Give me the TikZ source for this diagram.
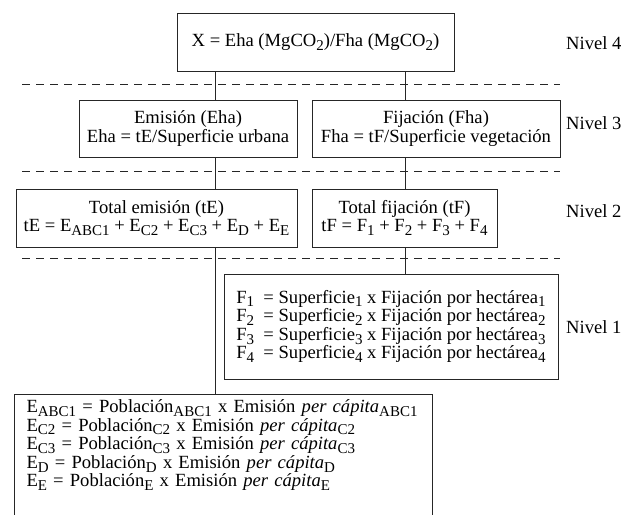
\documentclass[tikz,border=0pt]{standalone}
\usepackage{fontspec}
\setmainfont{Liberation Serif}
\usepackage{tikz}
\usetikzlibrary{positioning}

\newcommand{\ix}[1]{\raisebox{-3.8pt}{\fontsize{15}{15}\selectfont #1}}
\newcommand{\boxfont}{\fontsize{18.6}{18.6}\selectfont\lineskiplimit -20pt\relax}

\begin{document}
\begin{tikzpicture}
  [
    x=1pt, y=-1pt,
    Box/.style={rectangle, draw=black!85, line width=1pt, fill=white, inner sep=3pt,
      font=\boxfont, align=center},
    Level/.style={anchor=west, inner sep=0pt, font=\boxfont},
    Sep/.style={draw=black!85, line width=1pt, dash pattern=on 8pt off 6pt},
    Link/.style={draw=black!85, line width=1pt}
  ]
  \useasboundingbox (0,0) rectangle (621,514);
  \clip (0,0) rectangle (621,514);

  % Separators
  \path [Sep] (22,84) -- (560,84);
  \path [Sep] (22,171) -- (560,171);
  \path [Sep] (22,258) -- (560,258);

  % Nodes
  \coordinate (cl) at (215,0);
  \coordinate (cr) at (405,0);
  \node[Box, minimum width=277pt, minimum height=58pt] (x4) at (315.5,42) {X = Eha (MgCO\ix{2})/Fha (MgCO\ix{2})};
  \node[Box, minimum width=218pt, minimum height=57pt] (e3) at (188,128.5) {Emisión (Eha)\\Eha = tE/Superficie urbana};
  \node[Box, minimum width=248pt, minimum height=57pt] (f3) at (436,128.5) {Fijación (Fha)\\Fha = tF/Superficie vegetación};
  \node[Box, minimum width=281pt, minimum height=58pt] (e2) at (156.5,218) {Total emisión (tE)\\tE = E\ix{ABC1} + E\ix{C2} + E\ix{C3} + E\ix{D} + E\ix{E}};
  \node[Box, minimum width=185pt, minimum height=58pt] (f2) at (404.5,218) {Total fijación (tF)\\tF = F\ix{1} + F\ix{2} + F\ix{3} + F\ix{4}};
  \node[Box, align=left, minimum width=334pt, minimum height=105pt] (f1) at (391,326.5) {%
    F\ix{1}\ \ = Superficie\ix{1} x Fijación por hectárea\ix{1}\\
    F\ix{2}\ \ = Superficie\ix{2} x Fijación por hectárea\ix{2}\\
    F\ix{3}\ \ = Superficie\ix{3} x Fijación por hectárea\ix{3}\\
    F\ix{4}\ \ = Superficie\ix{4} x Fijación por hectárea\ix{4}};
  \node[Box, align=left, anchor=north west, text width=394pt, inner xsep=12pt, inner ysep=5pt] (e1) at (14,394) {%
    E\ix{ABC1} = Población\ix{ABC1} x Emisión \textit{per cápita}\ix{ABC1}\\
    E\ix{C2} = Población\ix{C2} x Emisión \textit{per cápita}\ix{C2}\\
    E\ix{C3} = Población\ix{C3} x Emisión \textit{per cápita}\ix{C3}\\
    E\ix{D} = Población\ix{D} x Emisión \textit{per cápita}\ix{D}\\
    E\ix{E} = Población\ix{E} x Emisión \textit{per cápita}\ix{E}\\
    \rule{0pt}{40pt}};

  \node[Level] (lv4) at (566,43) {Nivel 4};
  \node[Level] (lv3) at (566,123) {Nivel 3};
  \node[Level] (lv2) at (566,211) {Nivel 2};
  \node[Level] (lv1) at (566,327) {Nivel 1};

  % Lines
  \path [Link] (x4.south -| cl) -- (e3.north -| cl);
  \path [Link] (e3.south -| cl) -- (e2.north -| cl);
  \path [Link] (e2.south -| cl) -- (e1.north -| cl);
  \path [Link] (x4.south -| cr) -- (f3.north -| cr);
  \path [Link] (f3.south -| cr) -- (f2.north -| cr);
  \path [Link] (f2.south -| cr) -- (f1.north -| cr);

\end{tikzpicture}
\end{document}
